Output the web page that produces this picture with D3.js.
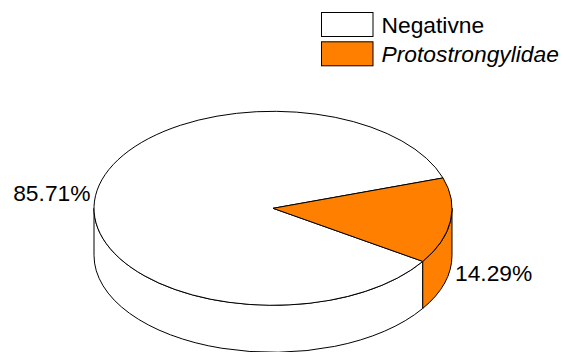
<!DOCTYPE html>
<html>
<head>
<meta charset="utf-8">
<script src="https://cdn.jsdelivr.net/npm/d3@7"></script>
<style>
  html, body { margin: 0; padding: 0; background: #fff; }
  svg { display: block; }
  text { font-family: "Liberation Sans", Arial, sans-serif; fill: #000; }
</style>
</head>
<body>
<svg id="chart" width="570" height="352"></svg>
<script>
// Share of samples by result
const categories = ["Negativne", "Protostrongylidae"];
const values = [85.71, 14.29];
const valueLabels = ["85.71%", "14.29%"];
const colors = ["#ffffff", "#ff8000"];
const italicNames = [false, true];

const W = 570, H = 352;
const cx = 273, cy = 208.3;   // centre of the top face
const rx = 179, ry = 97;      // top face radii
const depth = 47;             // thickness of the disc

const svg = d3.select("#chart");

// d3.pie angles: 0 at 12 o'clock, clockwise
const start = 123.2 * Math.PI / 180;
const pie = d3.pie().sort(null).value(d => d.value)
  .startAngle(start).endAngle(start + 2 * Math.PI);
const arcs = pie(categories.map((c, i) => ({ name: c, value: values[i], i })));

// screen parameter t (0 = east, clockwise) from a pie angle
const toT = a => a - Math.PI / 2;
const pt = (t, dy = 0) => [cx + rx * Math.cos(t), cy + ry * Math.sin(t) + dy];

function norm(t) {
  const TWO = 2 * Math.PI;
  return ((t % TWO) + TWO) % TWO;
}

// Portion of a slice's rim facing the viewer (t in [0, PI])
function frontRange(a0, a1) {
  const out = [];
  // handle ranges over two turns
  for (let k = -1; k <= 1; k++) {
    const lo = Math.max(a0, k * 2 * Math.PI);
    const hi = Math.min(a1, k * 2 * Math.PI + Math.PI);
    if (hi > lo) out.push([lo, hi]);
  }
  return out;
}

const g = svg.append("g");

// Rim walls
arcs.forEach(d => {
  const t0 = toT(d.startAngle), t1 = toT(d.endAngle);
  frontRange(t0, t1).forEach(([a, b]) => {
    const p0 = pt(a), p1 = pt(b), q1 = pt(b, depth), q0 = pt(a, depth);
    const large = (b - a) > Math.PI ? 1 : 0;
    const path = `M${p0[0]},${p0[1]} A${rx},${ry} 0 ${large} 1 ${p1[0]},${p1[1]}` +
      ` L${q1[0]},${q1[1]} A${rx},${ry} 0 ${large} 0 ${q0[0]},${q0[1]} Z`;
    g.append("path").attr("d", path)
      .attr("fill", colors[d.data.i]).attr("stroke", "#000")
      .attr("stroke-width", 1).attr("stroke-linejoin", "round");
  });
});

// Top faces
arcs.forEach(d => {
  const t0 = toT(d.startAngle), t1 = toT(d.endAngle);
  const p0 = pt(t0), p1 = pt(t1);
  const large = (t1 - t0) > Math.PI ? 1 : 0;
  const path = `M${cx},${cy} L${p0[0]},${p0[1]} A${rx},${ry} 0 ${large} 1 ${p1[0]},${p1[1]} Z`;
  g.append("path").attr("d", path)
    .attr("fill", colors[d.data.i]).attr("stroke", "#000")
    .attr("stroke-width", 1).attr("stroke-linejoin", "round");
});

// Value labels at each slice's middle angle
arcs.forEach(d => {
  const tm = norm(toT((d.startAngle + d.endAngle) / 2));
  const front = Math.sin(tm) > 0;
  const right = Math.cos(tm) > 0;
  const p = pt(tm, front ? depth : 0);
  svg.append("text")
    .attr("x", p[0] + (right ? 4.5 : -5))
    .attr("y", p[1] + (front ? 13.5 : 5.5))
    .attr("text-anchor", right ? "start" : "end")
    .attr("font-size", 22.8)
    .text(valueLabels[d.data.i]);
});

// Legend
const legend = svg.append("g").attr("transform", "translate(321.5,12.5)");
categories.forEach((c, i) => {
  const row = legend.append("g").attr("transform", `translate(0,${i * 29.3})`);
  row.append("rect").attr("width", 51.5).attr("height", 24)
    .attr("fill", colors[i]).attr("stroke", "#000").attr("stroke-width", 1);
  row.append("text").attr("x", 60).attr("y", 20)
    .attr("font-size", 22.8)
    .attr("font-style", italicNames[i] ? "italic" : "normal")
    .text(c);
});
</script>
</body>
</html>
